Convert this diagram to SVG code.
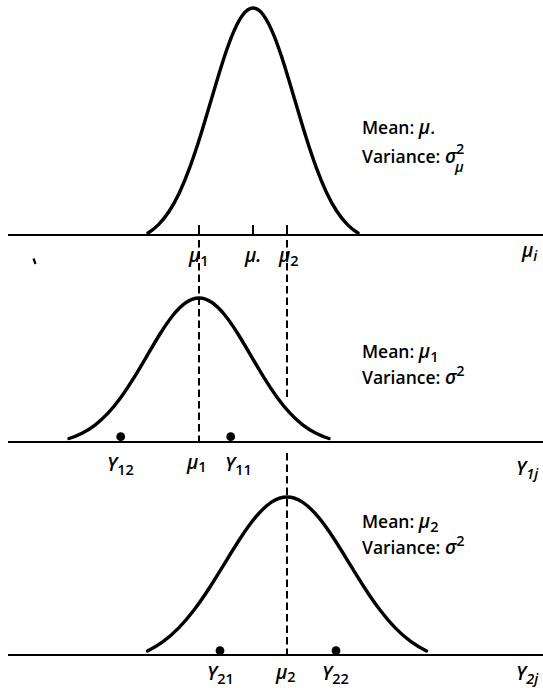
<svg xmlns="http://www.w3.org/2000/svg" width="543" height="688" viewBox="0 0 543 688">
<style>
.axis{stroke:#000;stroke-width:2;fill:none}
.curve{stroke:#000;stroke-width:3.4;fill:none;stroke-linecap:round;stroke-linejoin:round}
.dash{stroke:#000;stroke-width:2;stroke-dasharray:7.5 4;fill:none}
.tick{stroke:#000;stroke-width:2}
.dot{fill:#000}
text{font-family:"Open Sans","DejaVu Sans",sans-serif;fill:#000;font-weight:600}
.lbl{font-size:17.5px}
.sym{font-size:19px;font-style:italic}
.sub{font-size:14.5px;font-style:normal}
.isub{font-size:14.5px;font-style:italic}
</style>
<rect width="543" height="688" fill="#fff"/>
<g id="connectors">
<line class="axis" x1="8" y1="235" x2="543" y2="235"/>
<line class="axis" x1="8" y1="442" x2="543" y2="442"/>
<line class="axis" x1="8" y1="655" x2="543" y2="655"/>
<line class="tick" x1="199" y1="225" x2="199" y2="235"/>
<line class="tick" x1="253" y1="225" x2="253" y2="235"/>
<line class="tick" x1="287" y1="225" x2="287" y2="235"/>
<line class="dash" x1="199" y1="240" x2="199" y2="442"/>
<line class="dash" x1="287" y1="240" x2="287" y2="400"/>
<line class="dash" x1="287" y1="453" x2="287" y2="655"/>
<line x1="33.5" y1="258.5" x2="35.5" y2="264" stroke="#000" stroke-width="2.2"/>
</g>
<g id="dist-mu">
<path class="curve" d="M148 233 C151.5 230.85 155 228.11 158.5 224.6 S165.5 216.81 169 211.5 S176 199.82 179.5 192.4 S186.5 176.45 190 166.9 S197 146.82 200.5 135.6 S207.5 112.49 211 100.6 S218 76.8 221.5 65.7 S228.5 44.35 232 35.7 S239 19.95 242.5 15.2 S249.5 8 253 8 S260 10.45 263.5 15.2 S270.5 27.05 274 35.7 S281 54.6 284.5 65.7 S291.5 88.71 295 100.6 S302 124.38 305.5 135.6 S312.5 157.35 316 166.9 S323 184.98 326.5 192.4 S333.5 206.19 337 211.5 S344 221.09 347.5 224.6 S354.5 230.85 358 233"/>
<text class="lbl" x="362" y="134">Mean: <tspan class="sym">μ</tspan>.</text>
<text class="lbl" x="362" y="163">Variance: <tspan class="sym">σ</tspan></text>
<text class="sub" x="456" y="154">2</text>
<text class="isub" x="455" y="172">μ</text>
<text class="sym" x="189" y="262">μ<tspan class="sub" dy="4">1</tspan></text>
<text class="sym" x="245" y="262">μ.</text>
<text class="sym" x="279" y="262">μ<tspan class="sub" dy="4">2</tspan></text>
<text class="sym" x="522" y="257">μ<tspan class="isub" dy="4">i</tspan></text>
</g>
<g id="dist-group1">
<path class="curve" d="M69 438.5 C73.33 437.16 77.67 435.45 82 433.26 S90.67 428.38 95 425.07 S103.67 417.81 108 413.17 S116.67 403.2 121 397.24 S129.67 384.69 134 377.68 S142.67 363.26 147 355.83 S155.67 340.95 160 334.02 S168.67 320.67 173 315.27 S181.67 305.49 186 302.52 S194.67 298 199 298 S207.67 299.55 212 302.52 S220.67 309.87 225 315.27 S233.67 327.09 238 334.02 S246.67 348.4 251 355.83 S259.67 370.67 264 377.68 S272.67 391.28 277 397.24 S285.67 408.53 290 413.17 S298.67 421.76 303 425.07 S311.67 431.07 316 433.26 S324.67 437.16 329 438.5"/>
<circle class="dot" cx="120.7" cy="436.7" r="4.4"/>
<circle class="dot" cx="230.7" cy="436.7" r="4.4"/>
<text class="lbl" x="362" y="358">Mean: <tspan class="sym">μ</tspan><tspan class="sub" dy="4">1</tspan></text>
<text class="lbl" x="362" y="384">Variance: <tspan class="sym">σ</tspan><tspan class="sub" dy="-8">2</tspan></text>
<text class="sym" x="107" y="471">Y<tspan class="sub" dy="4">12</tspan></text>
<text class="sym" x="187" y="469">μ<tspan class="sub" dy="3">1</tspan></text>
<text class="sym" x="225" y="471">Y<tspan class="sub" dy="4">11</tspan></text>
<text class="sym" x="516" y="475">Y<tspan class="isub" dy="4">1j</tspan></text>
</g>
<g id="dist-group2">
<path class="curve" d="M147.5 651 C152.67 648.5 157.83 645.45 163 641.68 S173.33 633.41 178.5 628.13 S188.83 616.78 194 609.99 S204.33 595.7 209.5 587.72 S219.83 571.29 225 562.83 S235.33 545.92 240.5 538.03 S250.83 522.82 256 516.67 S266.33 505.54 271.5 502.16 S281.83 497 287 497 S297.33 498.78 302.5 502.16 S312.83 510.52 318 516.67 S328.33 530.14 333.5 538.03 S343.83 554.37 349 562.83 S359.33 579.74 364.5 587.72 S374.83 603.2 380 609.99 S390.33 622.85 395.5 628.13 S405.83 637.91 411 641.68 S421.33 648.5 426.5 651"/>
<circle class="dot" cx="220" cy="650.7" r="4.4"/>
<circle class="dot" cx="336" cy="650.7" r="4.4"/>
<text class="lbl" x="362" y="528">Mean: <tspan class="sym">μ</tspan><tspan class="sub" dy="4">2</tspan></text>
<text class="lbl" x="362" y="554">Variance: <tspan class="sym">σ</tspan><tspan class="sub" dy="-8">2</tspan></text>
<text class="sym" x="207" y="680">Y<tspan class="sub" dy="4">21</tspan></text>
<text class="sym" x="276" y="679">μ<tspan class="sub" dy="3">2</tspan></text>
<text class="sym" x="322" y="680">Y<tspan class="sub" dy="4">22</tspan></text>
<text class="sym" x="516" y="680">Y<tspan class="isub" dy="4">2j</tspan></text>
</g>
</svg>
